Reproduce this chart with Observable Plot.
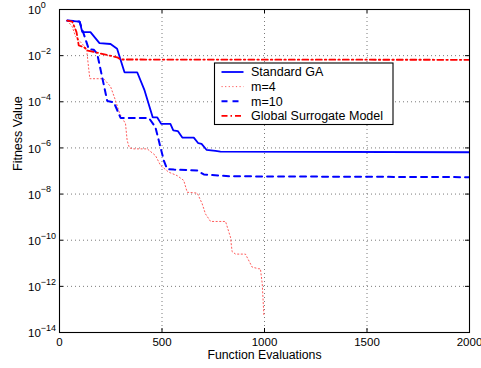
<!DOCTYPE html>
<html>
<head>
<meta charset="utf-8">
<script src="https://cdn.jsdelivr.net/npm/d3@7"></script>
<script src="https://cdn.jsdelivr.net/npm/@observablehq/plot@0.6"></script>
<style>
  html, body { margin: 0; padding: 0; background: #fff; }
  #chart svg { display: block; }
</style>
</head>
<body>
<div id="chart"></div>
<script>
// ---- Data ----
const seriesNames = ["Standard GA", "m=4", "m=10", "Global Surrogate Model"];

const gaEvals   = [38, 98, 111, 151, 195, 249, 281, 317, 379, 415, 455, 477, 496, 541, 555, 577, 599, 655, 677, 693, 717, 761, 785, 2000];
const gaFitness = [0.33, 0.30, 0.105, 0.105, 0.035, 0.032, 0.020, 1.9e-3, 1.9e-3, 3.1e-4, 2.1e-5, 2.1e-5, 1.1e-5, 1.1e-5, 5.8e-6, 5.4e-6, 2.8e-6, 2.8e-6, 1.6e-6, 1.5e-6, 8.3e-7, 7.4e-7, 6.9e-7, 6.5e-7];

const m4Evals   = [38, 62, 78, 132, 138, 148, 215, 249, 273, 294, 322, 330, 341, 362, 428, 468, 493, 533, 574, 606, 623, 672, 696, 712, 737, 810, 834, 842, 859, 907, 940, 972, 980, 989, 997];
const m4Fitness = [0.33, 0.18, 0.068, 0.020, 6.2e-3, 1.0e-3, 1.0e-3, 4.6e-4, 1.15e-4, 3.0e-5, 1.12e-5, 2.1e-6, 1.0e-6, 9.1e-7, 9.1e-7, 4.7e-7, 1.74e-7, 8.9e-8, 6.3e-8, 3.9e-8, 1.2e-8, 1.1e-8, 3.8e-9, 1.38e-9, 6.5e-10, 6.5e-10, 1.35e-10, 3.2e-11, 2.5e-11, 2.5e-11, 6.8e-12, 5.8e-12, 5.8e-12, 1.3e-12, 5.5e-14];

const m10Evals   = [38, 98, 143, 167, 184, 233, 265, 298, 436, 468, 509, 525, 558, 672, 704, 834, 2000];
const m10Fitness = [0.33, 0.30, 0.019, 0.018, 0.012, 1.07e-4, 9.5e-5, 2.0e-5, 2.0e-5, 7.9e-6, 2.8e-7, 1.23e-7, 1.15e-7, 1.05e-7, 7.1e-8, 5.9e-8, 5.4e-8];

const gsmEvals   = [38, 62, 83, 94, 119, 138, 281, 298, 2000];
const gsmFitness = [0.33, 0.30, 0.105, 0.0275, 0.0234, 0.0166, 8.5e-3, 6.8e-3, 6.6e-3];

const xTicks = [0, 500, 1000, 1500, 2000];
const yTickExponents = [0, -2, -4, -6, -8, -10, -12, -14];
const xLabel = "Function Evaluations";
const yLabel = "Fitness Value";

// ---- Styles ----
const styles = [
  {stroke: "#0000ff", strokeWidth: 1.8, dash: null},
  {stroke: "#ff5a5a", strokeWidth: 1, dash: "1.2,2.4"},
  {stroke: "#0000ff", strokeWidth: 2, dash: "6,5"},
  {stroke: "#ff0000", strokeWidth: 1.8, dash: "6,3,1.5,3"}
];
const seriesData = [
  [gaEvals, gaFitness],
  [m4Evals, m4Fitness],
  [m10Evals, m10Fitness],
  [gsmEvals, gsmFitness]
];

const yTickValues = yTickExponents.map(e => Math.pow(10, e));
const gridColor = "#7a7a7a";
const tickLen = 4;
const W = 481, H = 368, mL = 59, mR = 12, mT = 9, mB = 36;
const fw = W - mL - mR, fh = H - mT - mB;

const lineMarks = seriesData.map(([xs, ys], i) => Plot.line(xs, {
  x: xs, y: ys,
  stroke: styles[i].stroke,
  strokeWidth: styles[i].strokeWidth,
  strokeDasharray: styles[i].dash,
  strokeLinejoin: "miter",
  clip: true
}));

const plot = Plot.plot({
  width: W, height: H,
  marginLeft: mL, marginRight: mR, marginTop: mT, marginBottom: mB,
  style: {fontFamily: "'Liberation Sans', Arial, Helvetica, sans-serif", fontSize: "11.5px", background: "#fff", color: "#000", overflow: "visible"},
  x: {domain: [0, 2000]},
  y: {type: "log", domain: [1e-14, 1], axis: null},
  marks: [
    Plot.gridX(xTicks.slice(1, -1), {stroke: gridColor, strokeOpacity: 1, strokeDasharray: "1,3"}),
    Plot.gridY(yTickValues.slice(1, -1), {stroke: gridColor, strokeOpacity: 1, strokeDasharray: "1,3"}),
    ...lineMarks,
    Plot.frame({stroke: "#000", strokeWidth: 1.1}),
    // inward ticks on all four sides
    Plot.tickX(xTicks, {x: d => d, insetTop: fh - tickLen, stroke: "#000"}),
    Plot.tickX(xTicks, {x: d => d, insetBottom: fh - tickLen, stroke: "#000"}),
    Plot.tickY(yTickValues, {y: d => d, insetRight: fw - tickLen, stroke: "#000"}),
    Plot.tickY(yTickValues, {y: d => d, insetLeft: fw - tickLen, stroke: "#000"}),
    Plot.axisX({ticks: xTicks, tickSize: 0, tickPadding: 5, label: null, tickFormat: d => String(d), fontSize: 11.5}),
    Plot.text(yTickExponents, {
      y: e => Math.pow(10, e), frameAnchor: "left", textAnchor: "start",
      dx: -31.5, dy: 1, text: () => "10", fontSize: 11.5
    }),
    Plot.text([xLabel], {frameAnchor: "bottom", dy: 26.5, text: d => d, fontSize: 12.3}),
    Plot.text([yLabel], {frameAnchor: "left", dx: -41.5, rotate: -90, text: d => d, fontSize: 12.5})
  ]
});

document.getElementById("chart").appendChild(plot);

// superscript exponents on y tick labels (the only texts reading "10")
const baseTexts = Array.from(plot.querySelectorAll("text")).filter(t => t.textContent === "10");
baseTexts.forEach((t, i) => {
  const e = yTickExponents[i];
  d3.select(t).append("tspan")
    .attr("dy", "-0.7em")
    .attr("font-size", "9px")
    .text(e === 0 ? "0" : "\u2212" + (-e));
});

// legend box inside the plot
const lg = d3.select(plot).append("g").attr("class", "legend").attr("text-anchor", "start");
const lx = 214, ly = 62.5, lw = 178.5, lh = 61.5, rowH = 14.6;
lg.append("rect").attr("x", lx + 0.5).attr("y", ly + 0.5).attr("width", lw).attr("height", lh)
  .attr("fill", "#fff").attr("stroke", "#000").attr("stroke-width", 1.1);
seriesNames.forEach((name, i) => {
  const cy = ly + 9.5 + i * rowH;
  lg.append("line").attr("x1", lx + 7.5).attr("x2", lx + 29.5).attr("y1", cy).attr("y2", cy)
    .attr("stroke", styles[i].stroke).attr("stroke-width", styles[i].strokeWidth)
    .attr("stroke-dasharray", styles[i].dash);
  lg.append("text").attr("x", lx + 37).attr("y", cy).attr("dy", "0.35em")
    .attr("text-anchor", "start")
    .attr("font-size", "12.5px").attr("fill", "#000").text(name);
});
</script>
</body>
</html>
